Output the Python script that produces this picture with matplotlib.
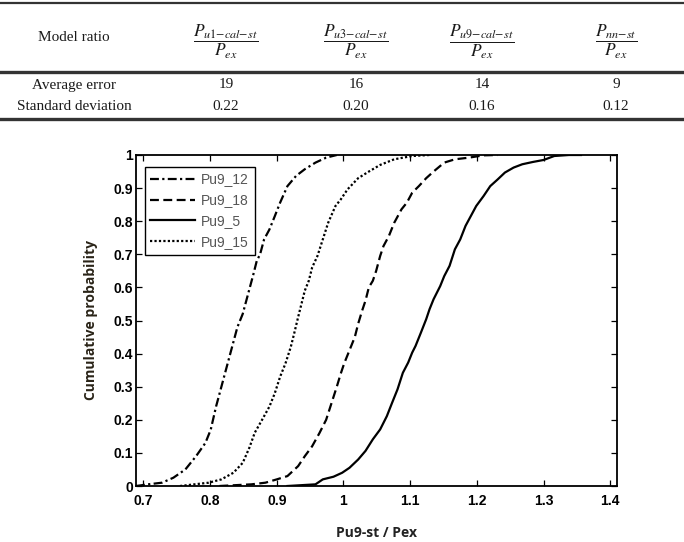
import matplotlib
matplotlib.use("Agg")
import matplotlib.pyplot as plt
from matplotlib.lines import Line2D

# ---------------- data ----------------
table_cols = [r"$\dfrac{P_{u1\mathrm{-}cal\mathrm{-}st}}{P_{ex}}$",
              r"$\dfrac{P_{u3\mathrm{-}cal\mathrm{-}st}}{P_{ex}}$",
              r"$\dfrac{P_{u9\mathrm{-}cal\mathrm{-}st}}{P_{ex}}$",
              r"$\dfrac{P_{nn\mathrm{-}st}}{P_{ex}}$"]
row_labels = ["Model ratio", "Average error", "Standard deviation"]
avg_error = ["19", "16", "14", "9"]
std_dev = ["0.22", "0.20", "0.16", "0.12"]

pu9_12_x = [0.689, 0.707, 0.728, 0.745, 0.763, 0.779, 0.793, 0.801, 0.809, 0.817, 0.825, 0.833,
            0.841, 0.849, 0.857, 0.865, 0.870, 0.875, 0.881, 0.889, 0.897, 0.905, 0.916, 0.929,
            0.942, 0.958, 0.974, 0.990]
pu9_12_y = [0.0, 0.005, 0.01, 0.025, 0.05, 0.09, 0.13, 0.17, 0.24, 0.30, 0.36, 0.42,
            0.48, 0.52, 0.58, 0.64, 0.68, 0.70, 0.745, 0.775, 0.815, 0.856, 0.906, 0.937,
            0.957, 0.977, 0.992, 1.0]

pu9_18_x = [0.814, 0.862, 0.883, 0.900, 0.916, 0.932, 0.942, 0.953, 0.964, 0.974, 0.982, 0.990,
            0.996, 1.001, 1.009, 1.017, 1.022, 1.028, 1.033, 1.038, 1.044, 1.049, 1.055, 1.060,
            1.068, 1.076, 1.087, 1.095, 1.103, 1.113, 1.124, 1.135, 1.151, 1.167, 1.188, 1.210, 1.231]
pu9_18_y = [0.0, 0.005, 0.01, 0.02, 0.03, 0.06, 0.09, 0.12, 0.16, 0.20, 0.25, 0.30,
            0.34, 0.37, 0.41, 0.45, 0.49, 0.53, 0.56, 0.60, 0.62, 0.65, 0.695, 0.725,
            0.755, 0.795, 0.836, 0.856, 0.886, 0.906, 0.93, 0.95, 0.977, 0.987, 0.992, 0.999, 1.0]

pu9_5_x = [0.916, 0.958, 0.969, 0.985, 0.998, 1.009, 1.022, 1.033, 1.044, 1.055, 1.065, 1.073,
           1.081, 1.089, 1.097, 1.103, 1.108, 1.116, 1.124, 1.129, 1.135, 1.140, 1.145, 1.151,
           1.159, 1.167, 1.175, 1.183, 1.191, 1.199, 1.210, 1.220, 1.231, 1.242, 1.255, 1.268,
           1.284, 1.300, 1.316, 1.338, 1.356]
pu9_5_y = [0.0, 0.005, 0.02, 0.028, 0.04, 0.055, 0.08, 0.106, 0.141, 0.171, 0.211, 0.252,
           0.292, 0.342, 0.373, 0.403, 0.423, 0.463, 0.504, 0.534, 0.564, 0.584, 0.604, 0.634,
           0.665, 0.715, 0.745, 0.786, 0.816, 0.846, 0.876, 0.906, 0.926, 0.947, 0.962, 0.972,
           0.979, 0.985, 0.997, 1.0, 1.0]

pu9_15_x = [0.755, 0.798, 0.817, 0.835, 0.849, 0.859, 0.867, 0.878, 0.889, 0.897, 0.905, 0.913,
            0.921, 0.926, 0.932, 0.937, 0.942, 0.948, 0.953, 0.961, 0.969, 0.977, 0.988, 0.996,
            1.006, 1.022, 1.038, 1.055, 1.076, 1.103, 1.129]
pu9_15_y = [0.0, 0.01, 0.02, 0.04, 0.07, 0.116, 0.161, 0.20, 0.24, 0.28, 0.33, 0.37,
            0.42, 0.46, 0.51, 0.55, 0.59, 0.62, 0.66, 0.695, 0.745, 0.795, 0.846, 0.866,
            0.896, 0.93, 0.95, 0.97, 0.987, 0.997, 1.0]

x_ticks = [0.7, 0.8, 0.9, 1.0, 1.1, 1.2, 1.3, 1.4]
x_tick_labels = ["0.7", "0.8", "0.9", "1", "1.1", "1.2", "1.3", "1.4"]
y_ticks = [0, 0.1, 0.2, 0.3, 0.4, 0.5, 0.6, 0.7, 0.8, 0.9, 1.0]
y_tick_labels = ["0", "0.1", "0.2", "0.3", "0.4", "0.5", "0.6", "0.7", "0.8", "0.9", "1"]

# ---------------- figure ----------------
plt.rcParams["mathtext.fontset"] = "stix"
W, H = 684, 542
fig = plt.figure(figsize=(W / 100, H / 100), dpi=100)

def fx(px):
    return px / W

def fy(py):
    return 1 - py / H

serif = "Liberation Serif"
tcol = "#1a1a1a"
# table rules
for yy, lw in [(3, 1.6), (72, 2.4), (119, 2.4)]:
    fig.add_artist(Line2D([0, 1], [fy(yy), fy(yy)], transform=fig.transFigure,
                          color="#333333", lw=lw))
col_x = [74, 226, 356, 482, 616]
fs_tab = 11
fig.text(fx(col_x[0]), fy(38), row_labels[0], ha="center", va="center",
         family=serif, fontsize=fs_tab, color=tcol)
for cx, lab in zip(col_x[1:], table_cols):
    fig.text(fx(cx), fy(42), lab, ha="center", va="center", fontsize=12.5, color=tcol)
fig.text(fx(col_x[0]), fy(85), row_labels[1], ha="center", va="center",
         family=serif, fontsize=fs_tab, color=tcol)
fig.text(fx(col_x[0]), fy(107), row_labels[2], ha="center", va="center",
         family=serif, fontsize=fs_tab, color=tcol)
for cx, a, s in zip(col_x[1:], avg_error, std_dev):
    fig.text(fx(cx), fy(85), a, ha="center", va="center", family=serif, fontsize=fs_tab, color=tcol)
    fig.text(fx(cx), fy(107), s, ha="center", va="center", family=serif, fontsize=fs_tab, color=tcol)

# axes
ax_l, ax_r, ax_t, ax_b = 136, 617, 155, 486
ax = fig.add_axes([fx(ax_l), fy(ax_b), (ax_r - ax_l) / W, (ax_b - ax_t) / H])
lw = 1.6
ax.plot(pu9_12_x, pu9_12_y, color="black", lw=lw, linestyle=(0, (4, 1.5, 1, 1.5)), label="Pu9_12")
ax.plot(pu9_18_x, pu9_18_y, color="black", lw=lw, linestyle=(0, (4, 2)), label="Pu9_18")
ax.plot(pu9_5_x, pu9_5_y, color="black", lw=lw, linestyle="-", label="Pu9_5")
ax.plot(pu9_15_x, pu9_15_y, color="black", lw=lw, linestyle=(0, (1, 1)), label="Pu9_15")

ax.set_xlim(0.689, 1.41)
ax.set_ylim(0, 1)
ax.set_xticks(x_ticks)
ax.set_xticklabels(x_tick_labels)
ax.set_yticks(y_ticks)
ax.set_yticklabels(y_tick_labels)
ax.tick_params(direction="in", length=4, width=0.9, top=True, right=True, colors="black")
ax.tick_params(axis="x", pad=6)
ax.tick_params(axis="y", pad=2)
for lab in ax.get_xticklabels() + ax.get_yticklabels():
    lab.set_family("Liberation Sans")
    lab.set_fontweight("bold")
    lab.set_fontsize(10)
for sp in ax.spines.values():
    sp.set_linewidth(1.3)
    sp.set_color("black")

ax.set_xlabel("Pu9-st / Pex", family="Open Sans", fontweight="bold", fontsize=10,
              color="#222222", labelpad=13)
ax.set_ylabel("Cumulative probability", family="Open Sans", fontweight="bold", fontsize=10,
              color="#2a2418", labelpad=11)

leg = ax.legend(loc="upper left", bbox_to_anchor=(0.004, 0.985), frameon=True, fancybox=False,
                edgecolor="black", framealpha=1, handlelength=3.2, handletextpad=0.45,
                labelspacing=0.5, borderpad=0.4, prop={"family": "Liberation Sans", "size": 10})
leg.get_frame().set_linewidth(1.0)
for t in leg.get_texts():
    t.set_color("#555555")

fig.savefig("out.png", dpi=100)
